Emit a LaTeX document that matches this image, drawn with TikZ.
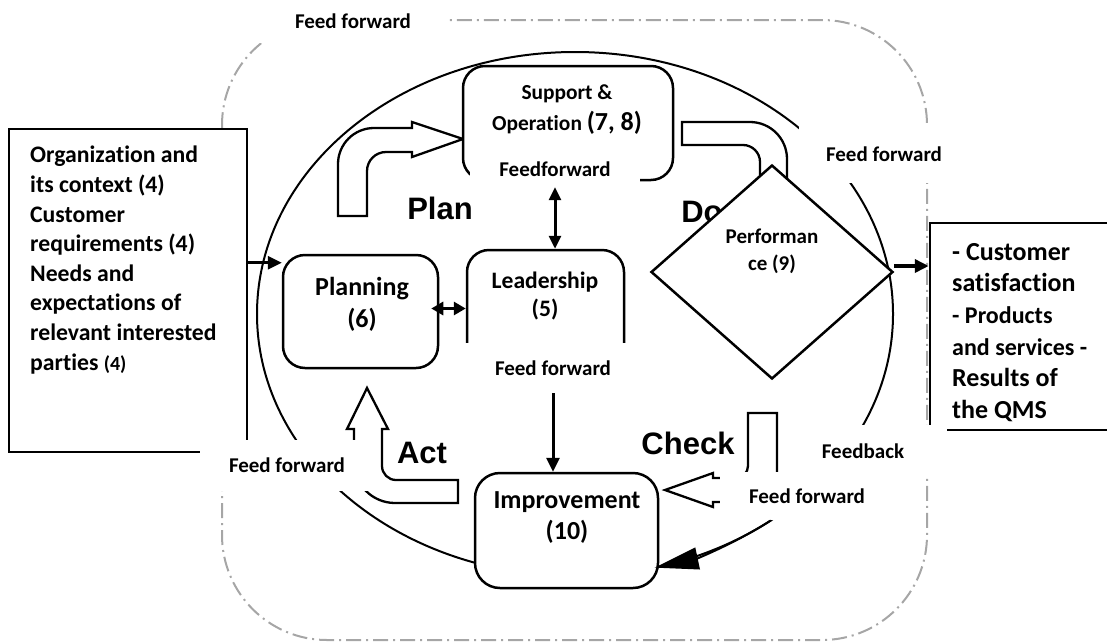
\documentclass[tikz,border=0pt]{standalone}
\usepackage{fontspec}
\setmainfont{Carlito}[Ligatures={NoCommon,NoRare,NoContextual}]
\newfontfamily\arialfont{Liberation Sans}
\usetikzlibrary{arrows.meta, shapes.geometric, positioning}

\newcommand{\lblfont}{\bfseries\fontsize{21}{25}\selectfont}
\newcommand{\boxfont}{\bfseries\fontsize{26}{31}\selectfont}
\newcommand{\phasefont}{\arialfont\bfseries\fontsize{31}{31}\selectfont}

\tikzset{
  box/.style = {draw, line width=2.5pt, rounded corners=22pt, fill=white, inner sep=0pt},
  frame/.style = {draw, line width=2.5pt, fill=white, inner sep=0pt},
  pipe/.style = {draw, line width=2.3pt, fill=white},
  txt/.style = {align=center, inner sep=0pt},
  cover/.style = {fill=white, inner sep=0pt, font=\lblfont},
  phase/.style = {inner sep=0pt, font=\phasefont},
  arr/.style = {-{Triangle[length=14pt,width=13pt]}, line width=3pt},
  dbl/.style = {{Triangle[length=13pt,width=12pt]}-{Triangle[length=13pt,width=12pt]}, line width=3pt},
  outline/.style = {draw=black!35, line width=2pt, dash pattern=on 15pt off 5pt on 2pt off 5pt, rounded corners=105pt}
}

\begin{document}
\begin{tikzpicture}[x=1pt, y=1pt]
\useasboundingbox (0,0) rectangle (1107,-643);

% dash-dot outline
\draw[outline] (222,-20) rectangle (927,-640);

% PDCA ring
\coordinate (hub) at (575,-314);
\draw[line width=2pt] (hub) ellipse [x radius=318pt, y radius=262pt];

% block arrows
\draw[pipe] (338,-216) -- (338,-164) arc[start angle=180, end angle=90, radius=36pt] -- (412,-128) -- (412,-122) -- (463,-139) -- (412,-157) -- (412,-152) -- (386,-152) arc[start angle=90, end angle=180, radius=19pt] -- (367,-216) -- cycle;
\draw[pipe] (760,-230) -- (760,-162) arc[start angle=0, end angle=90, radius=17pt] -- (682,-145) -- (682,-122) -- (750,-122) arc[start angle=90, end angle=0, radius=37pt] -- (787,-230);
\draw[pipe] (367,-388) -- (388,-429) -- (382,-429) -- (382,-466) arc[start angle=180, end angle=270, radius=14pt] -- (458,-480) -- (458,-503) -- (395,-503) arc[start angle=270, end angle=180, radius=41pt] -- (354,-429) -- (347,-429) -- cycle;
\draw[pipe] (665,-490) -- (713,-473) -- (713,-478) -- (736,-478) arc[start angle=270, end angle=360, radius=12pt] -- (748,-413) -- (777,-413) -- (777,-478) arc[start angle=0, end angle=-90, radius=24pt] -- (713,-502) -- (713,-507) -- cycle;

% phase names
\node[phase] (plan) at (440,-208) {Plan};
\node[phase] (do) at (702,-212) {Do};
\node[phase] (act) at (422,-453) {Act};
\node[phase] (check) at (688,-443) {Check};

% process boxes
\node[box, minimum width=210pt, minimum height=114pt] (support) at (568,-123) {};
\node[box, minimum width=155pt, minimum height=113pt] (planning) at (360.5,-311.5) {};
\node[box, minimum width=157pt, minimum height=130pt] (leadership) at (545.5,-315) {};
\node[box, rounded corners=25pt, minimum width=183pt, minimum height=115pt] (improvement) at (566.5,-530.5) {};
\node[frame, diamond, minimum width=242pt, minimum height=214pt] (perf) at (772,-272) {};
\node[frame, minimum width=238pt, minimum height=323pt] (context) at (128,-290.5) {};
\node[frame, minimum width=200pt, minimum height=207pt] (results) at (1030,-326.5) {};

% box texts
\node[txt, font=\bfseries\fontsize{21.4}{31}\selectfont] (supporttxt) at (567,-110) {Support \&\\Operation {\fontsize{26}{31}\selectfont(7, 8)}};
\node[txt, font=\bfseries\fontsize{26}{32}\selectfont] (planningtxt) at (362,-304) {Planning\\(6)};
\node[txt, font=\bfseries\fontsize{23.6}{28}\selectfont] (leadershiptxt) at (545,-296) {Leadership\\(5)};
\node[txt, font=\boxfont] (improvementtxt) at (567,-518) {Improvement\\(10)};
\node[txt, font=\bfseries\fontsize{21}{27}\selectfont] (perftxt) at (772,-251) {Performan\\ce (9)};

\node[txt, align=left, anchor=north west, font=\bfseries\fontsize{23.7}{29.6}\selectfont] (contexttxt) at (30,-146)
  {Organization and\\its context (4)\\Customer\\requirements (4)\\Needs and\\expectations of\\relevant interested\\parties {\fontsize{20}{20}\selectfont(4)}};
\node[txt, align=left, anchor=north west, font=\bfseries\fontsize{26}{31.6}\selectfont] (resultstxt) at (952,-243)
  {- Customer\\satisfaction\\{\fontsize{24}{31.6}\selectfont - Products}\\{\fontsize{24}{31.6}\selectfont and services -}\\Results of\\the QMS};

% feed labels
\node[cover, minimum width=192pt, minimum height=43pt] (fftop) at (353,-21.5) {Feed forward};
\node[cover, minimum width=170pt, minimum height=57pt] (ffright) at (884,-154.5) {Feed forward};
\node[cover, minimum width=168pt, minimum height=52pt] (fback) at (863,-451) {Feedback};
\node[cover, minimum width=174pt, minimum height=48pt] (ffcheck) at (807,-496) {Feed forward};
\node[cover, minimum width=174pt, minimum height=51pt] (ffact) at (287,-465.5) {Feed forward};
\node[cover, minimum width=180pt, minimum height=50pt] (fflead) at (553,-368) {Feed forward};
\node[cover, minimum width=170pt, minimum height=35pt] (ffsup) at (555,-169.5) {Feedforward};

% Arrows
\coordinate (inlet) at ([yshift=-9pt]planning.north west);
\draw[arr] (context.east |- inlet) -- (inlet);
\coordinate (pl) at ([shift={(-8pt,3pt)}]planning.east);
\draw[{Triangle[length=12pt,width=13pt]}-{Triangle[length=12pt,width=13pt]}, line width=3pt] (pl) -- (pl -| leadership.west);
\draw[dbl] (ffsup.south) -- (ffsup.south |- leadership.north);
\draw[arr] (fflead.south) -- (fflead.south |- improvement.north);
\draw[arr, line width=3.5pt] ([yshift=6pt]perf.east) coordinate (pout) -- (pout -| results.west);
\draw[-{Triangle[length=44pt,width=22pt]}, line width=2pt] ([shift={(-52:318pt and 262pt)}]hub) arc[start angle=-52, end angle=-75.5, x radius=318pt, y radius=262pt];

\end{tikzpicture}
\end{document}
